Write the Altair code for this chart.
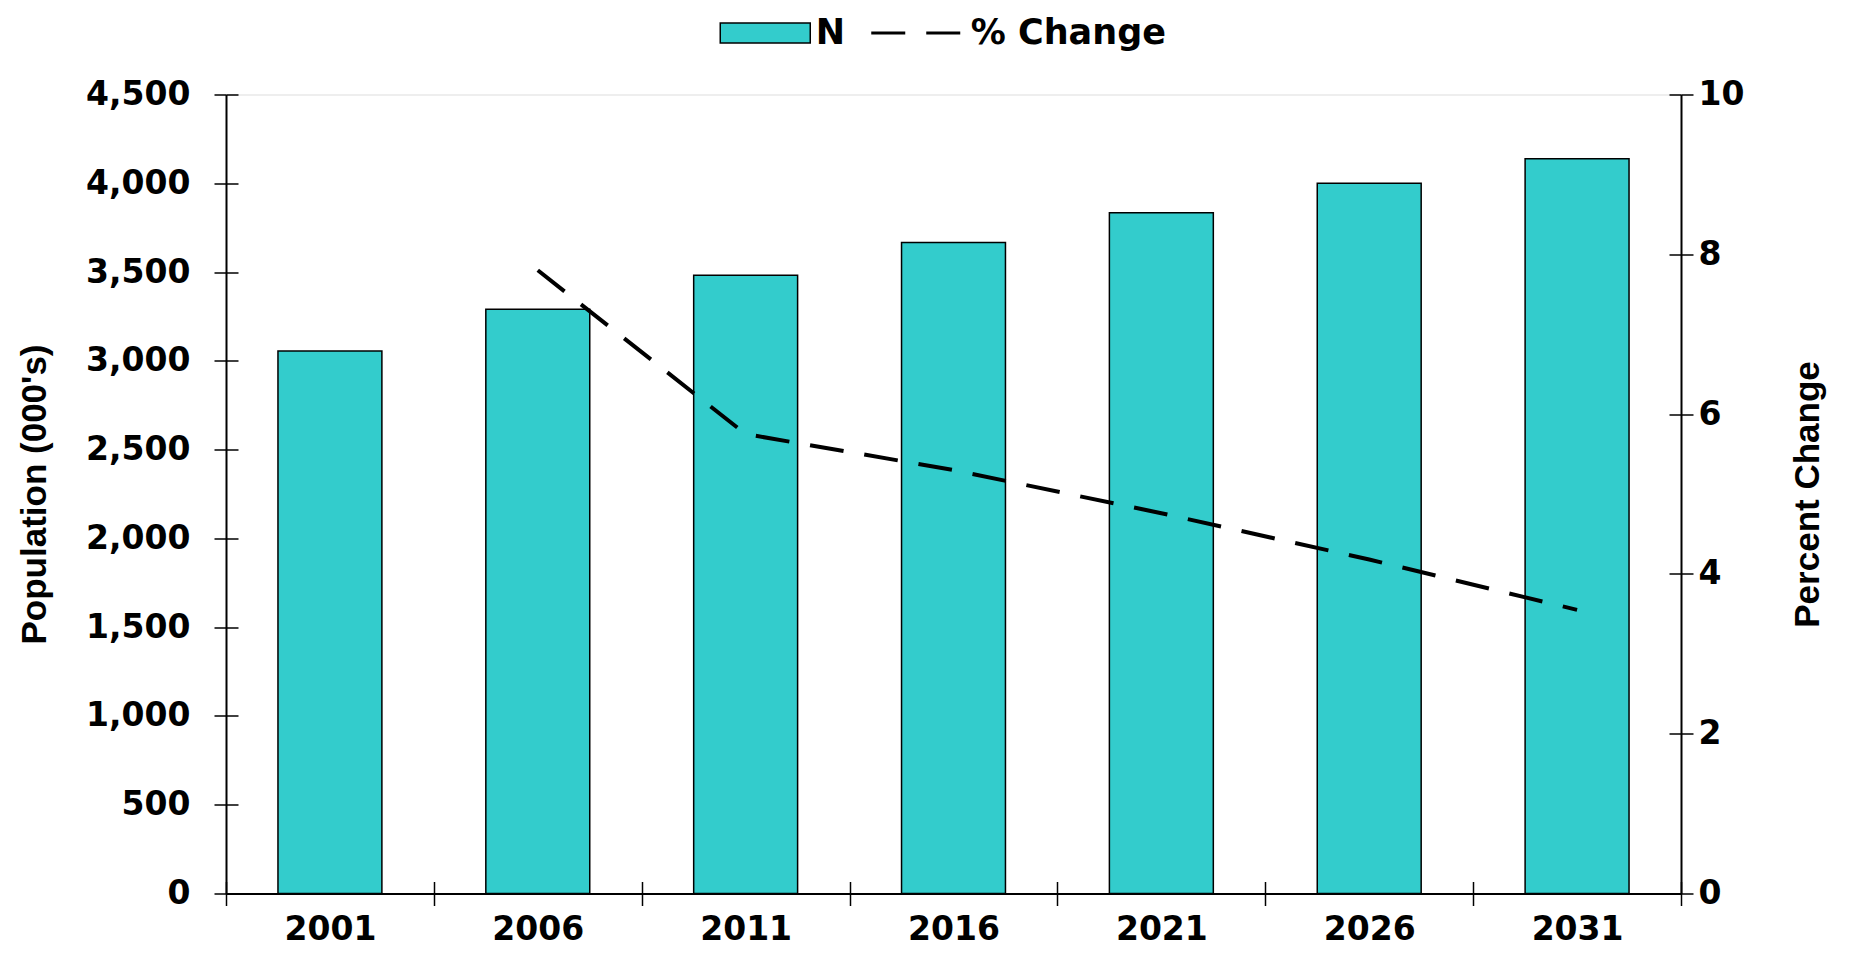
import altair as alt
import pandas as pd

# ---- data ----
years = [2001, 2006, 2011, 2016, 2021, 2026, 2031]
population = [3055, 3290, 3482, 3666, 3834, 4000, 4138]
pct_change = [None, 7.8, 5.75, 5.3, 4.76, 4.18, 3.55]
x_boundaries = [1998.5, 2003.5, 2008.5, 2013.5, 2018.5, 2023.5, 2028.5, 2033.5]
left_ticks = [0, 500, 1000, 1500, 2000, 2500, 3000, 3500, 4000, 4500]
right_ticks = [0, 2, 4, 6, 8, 10]
bar_label = ["N"]
line_label = ["% Change"]

df = pd.DataFrame({"Year": years, "N": population, "Pct": pct_change})

BOLD = "DejaVu Sans"
NARROW = "Liberation Sans"
TEAL = "#33CCCC"

xscale = alt.Scale(domain=[x_boundaries[0], x_boundaries[-1]], nice=False, zero=False)
lscale = alt.Scale(domain=[0, 4500], nice=False)
rscale = alt.Scale(domain=[0, 10], nice=False)

tick_style = dict(tickColor="black", tickWidth=1.5, domainColor="black", domainWidth=2, grid=False)
label_style = dict(labelFont=BOLD, labelFontWeight="bold", labelFontSize=33, labelColor="black")
title_style = dict(titleFont=NARROW, titleFontWeight="bold", titleFontSize=35, titleColor="black")
legend_label = dict(labelFont=BOLD, labelFontWeight="bold", labelFontSize=35,
                    labelColor="black", labelLimit=400, title=None, padding=0, orient="none")

base = alt.Chart(df)

bars = base.transform_calculate(
    x0="datum.Year - 1.25", x1="datum.Year + 1.25", zero="0",
    series="'" + bar_label[0] + "'"
).mark_bar(stroke="black", strokeWidth=1.5).encode(
    x=alt.X("x0:Q", scale=xscale, axis=alt.Axis(
        orient="bottom", values=x_boundaries, labels=False, tickSize=12, domain=True,
        title=None, **tick_style)),
    x2="x1:Q",
    y=alt.Y("N:Q", scale=lscale, axis=alt.Axis(
        orient="left", values=left_ticks, format=",.0f", tickSize=12, labelPadding=24,
        title="Population (000's)", titleAngle=270, titleX=-192, titleY=399.5,
        titleBaseline="middle", titleAlign="center",
        **tick_style, **label_style, **title_style)),
    y2="zero:Q",
    fill=alt.Fill("series:N", scale=alt.Scale(domain=bar_label, range=[TEAL]), legend=alt.Legend(
        legendX=521.75, legendY=-79,
        symbolType="M-4,-0.88H4V0.88H-4Z", symbolSize=506.25,
        symbolStrokeColor="black", symbolStrokeWidth=1.5, symbolFillColor=TEAL,
        labelOffset=33, **legend_label)),
)

inner_lb = base.mark_point(opacity=0).encode(
    x=alt.X("Year:Q", scale=xscale, axis=alt.Axis(
        orient="bottom", values=x_boundaries, labels=False, domain=False, tickSize=12,
        offset=-12, title=None, **tick_style)),
    y=alt.Y("N:Q", scale=lscale, axis=alt.Axis(
        orient="left", values=left_ticks, labels=False, domain=False, tickSize=12,
        offset=-12, title=None, **tick_style)),
)

line = base.transform_filter("isValid(datum.Pct)").transform_calculate(
    series2="'" + line_label[0] + "'"
).mark_line(color="black", strokeWidth=4).encode(
    x=alt.X("Year:Q", scale=xscale, axis=alt.Axis(
        orient="bottom", values=years, format="d", ticks=False, domain=False,
        labelPadding=20, labelFlush=False, labelOverlap=False, title=None,
        grid=False, **label_style)),
    y=alt.Y("Pct:Q", scale=rscale, axis=alt.Axis(
        orient="right", values=right_ticks, tickSize=12, labelPadding=5,
        title="Percent Change", titleAngle=270, titleX=126, titleY=399.5,
        titleBaseline="middle", titleAlign="center",
        **tick_style, **label_style, **title_style)),
    strokeDash=alt.StrokeDash("series2:N", scale=alt.Scale(domain=line_label, range=[[34, 21]]),
        legend=alt.Legend(
            legendX=672.75, legendY=-79,
            symbolType="M-4,0H4", symbolSize=506.25, symbolStrokeWidth=3,
            symbolDash=[39, 22], symbolStrokeColor="black", symbolFillColor="transparent",
            labelOffset=37, **legend_label)),
)

inner_r = base.transform_filter("isValid(datum.Pct)").mark_point(opacity=0).encode(
    x=alt.X("Year:Q", scale=xscale, axis=None),
    y=alt.Y("Pct:Q", scale=rscale, axis=alt.Axis(
        orient="right", values=right_ticks, labels=False, domain=False, tickSize=12,
        offset=-12, title=None, **tick_style)),
)

chart = alt.layer(bars, inner_lb, line, inner_r).resolve_scale(
    y="independent", strokeDash="independent", fill="independent"
).resolve_axis(
    x="independent", y="independent"
).properties(
    width=1455, height=799, autosize="none",
    padding={"left": 218, "top": 86.5, "right": 160, "bottom": 54},
).configure_view(
    strokeWidth=0, stroke="transparent", strokeOpacity=0
).configure_axis(grid=False).configure(background="white")

chart.save("out.html", embed_options={"renderer": "svg", "actions": False})
